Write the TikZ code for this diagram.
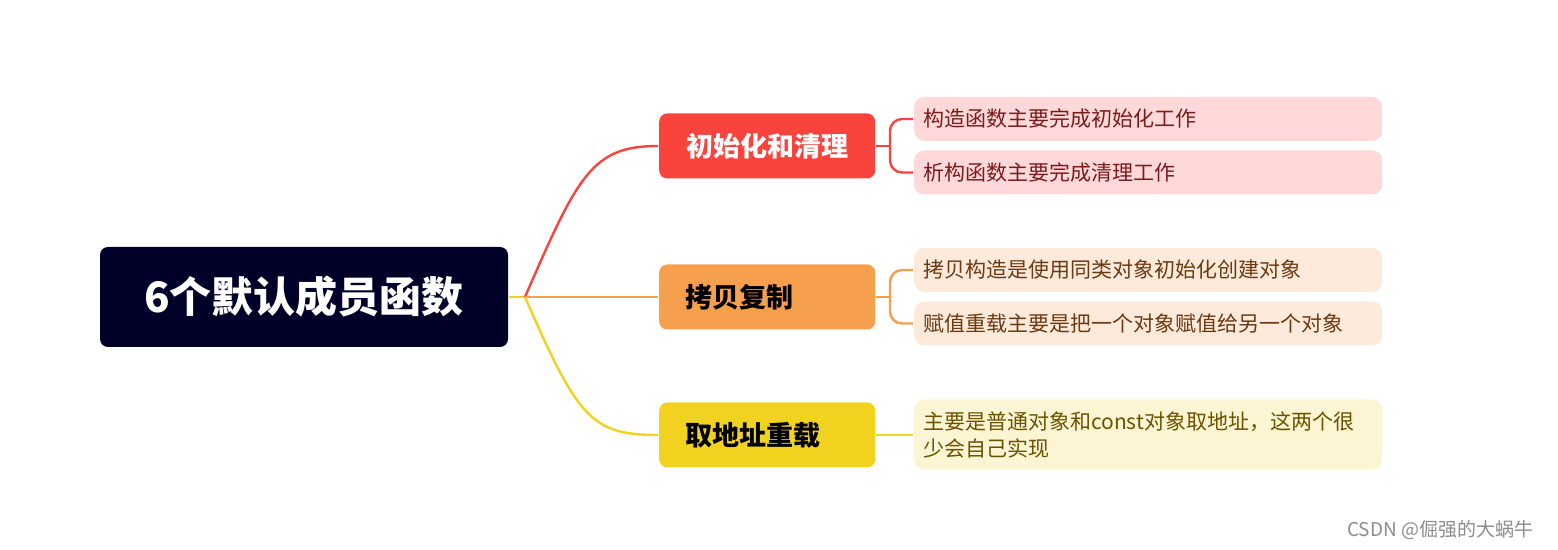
\documentclass[tikz,border=0pt]{standalone}
\usepackage{fontspec}
\setmainfont{Noto Sans CJK SC}
\usepackage{tikz}
\usetikzlibrary{positioning}

\definecolor{rootfill}{HTML}{000028}
\definecolor{redfill}{HTML}{F9443E}
\definecolor{orangefill}{HTML}{F6A04D}
\definecolor{yellowfill}{HTML}{F0D21F}
\definecolor{redleaf}{HTML}{FFD9D9}
\definecolor{orangeleaf}{HTML}{FDEADB}
\definecolor{yellowleaf}{HTML}{FCF5D3}
\definecolor{redtext}{HTML}{7A1B1B}
\definecolor{orangetext}{HTML}{6B3A12}
\definecolor{yellowtext}{HTML}{6B5200}

\begin{document}
\begin{tikzpicture}[x=0.5pt,y=-0.5pt,line width=1.2pt,
  root node/.style={rounded corners=4pt,fill=rootfill,text=white,minimum width=204pt,
    minimum height=50pt,font=\fontsize{21}{25}\selectfont\bfseries},
  main node/.style={rounded corners=4pt,anchor=west,text width=82pt,inner xsep=13pt,
    minimum height=32.5pt,font=\fontsize{13.5}{16}\selectfont\bfseries},
  leaf node/.style={rounded corners=5pt,anchor=west,text width=225pt,inner xsep=4.5pt,
    minimum height=22pt,font=\fontsize{10.5}{13.5}\selectfont}]

  \useasboundingbox (0,0) rectangle (1558,550);

  \node[root node] (root) at (304,297) {6个默认成员函数};

  \node[main node,fill=redfill,text=white,align=center] (init) at (658,146) {初始化和清理};
  \node[main node,fill=orangefill] (copy) at (658,297) {拷贝复制};
  \node[main node,fill=yellowfill] (addr) at (658,435) {取地址重载};

  \node[leaf node,fill=redleaf,text=redtext] (ctor) at (913,119) {构造函数主要完成初始化工作};
  \node[leaf node,fill=redleaf,text=redtext] (dtor) at (913,172.5) {析构函数主要完成清理工作};
  \node[leaf node,fill=orangeleaf,text=orangetext] (cctor) at (913,270) {拷贝构造是使用同类对象初始化创建对象};
  \node[leaf node,fill=orangeleaf,text=orangetext] (assign) at (913,323.5) {赋值重载主要是把一个对象赋值给另一个对象};
  \node[leaf node,fill=yellowleaf,text=yellowtext,minimum height=35pt] (addrleaf) at (913,434.5)
    {主要是普通对象和const对象取地址，这两个很\\少会自己实现};

  \node[text=black!45,font=\fontsize{9.5}{11}\selectfont,anchor=east] (mark) at (1541,530) {CSDN @倔强的大蜗牛};

  % root to first level
  \coordinate (fork) at (525,297);
  \draw[yellowfill] (root.east) -- (fork);
  \draw[redfill] (fork) .. controls (578,175) and (592,146) .. (init.west);
  \draw[orangefill] (fork) -- (copy.west);
  \draw[yellowfill] (fork) .. controls (578,419) and (592,435) .. (addr.west);

  % first level to leaves
  \coordinate (initfork) at (890,146);
  \coordinate (copyfork) at (890,297);
  \draw[redfill] (init.east) -- (initfork);
  \draw[redfill,rounded corners=6pt] (initfork) |- (ctor.west);
  \draw[redfill,rounded corners=6pt] (initfork) |- (dtor.west);
  \draw[orangefill] (copy.east) -- (copyfork);
  \draw[orangefill,rounded corners=6pt] (copyfork) |- (cctor.west);
  \draw[orangefill,rounded corners=6pt] (copyfork) |- (assign.west);
  \draw[yellowfill] (addr.east) -- (addr.east -| addrleaf.west);
\end{tikzpicture}
\end{document}
